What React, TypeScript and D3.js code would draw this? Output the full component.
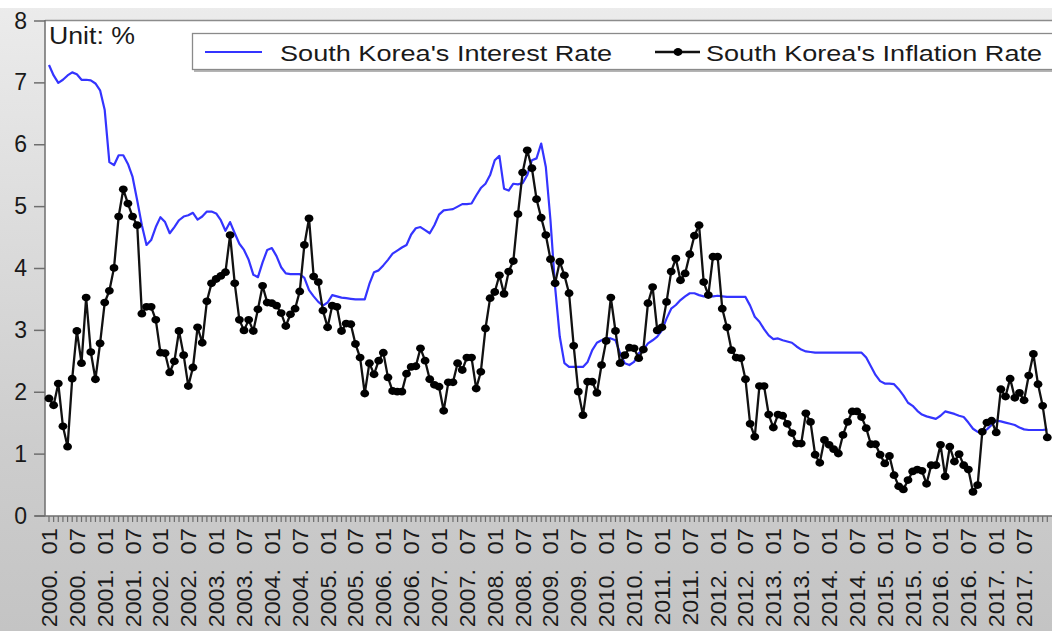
import React from "react";
import * as d3 from "d3";

const years = [2000, 2001, 2002, 2003, 2004, 2005, 2006, 2007, 2008, 2009, 2010, 2011, 2012, 2013, 2014, 2015, 2016, 2017];
const monthCodes = ["01", "02", "03", "04", "05", "06", "07", "08", "09", "10", "11", "12"];
const categories: string[] = years.flatMap((yr) => monthCodes.map((m) => `${yr}.${m}`));

const interestRate = [
  7.29, 7.12, 7.00, 7.05, 7.12, 7.17, 7.14, 7.05, 7.05, 7.04, 6.99, 6.88,
  6.56, 5.72, 5.67, 5.83, 5.83, 5.69, 5.48, 5.10, 4.70, 4.38, 4.46, 4.67,
  4.83, 4.75, 4.57, 4.67, 4.78, 4.84, 4.86, 4.90, 4.79, 4.84, 4.92, 4.92,
  4.89, 4.78, 4.61, 4.75, 4.57, 4.40, 4.30, 4.14, 3.90, 3.86, 4.10, 4.30,
  4.33, 4.20, 4.02, 3.92, 3.91, 3.91, 3.91, 3.85, 3.65, 3.55, 3.46, 3.40,
  3.45, 3.57, 3.55, 3.53, 3.52, 3.51, 3.50, 3.50, 3.50, 3.75, 3.94, 3.97,
  4.05, 4.14, 4.24, 4.29, 4.34, 4.38, 4.55, 4.65, 4.67, 4.62, 4.57, 4.70,
  4.87, 4.94, 4.95, 4.96, 5.00, 5.04, 5.04, 5.05, 5.18, 5.30, 5.37, 5.51,
  5.75, 5.82, 5.29, 5.26, 5.37, 5.36, 5.38, 5.51, 5.75, 5.78, 6.02, 5.64,
  4.78, 3.70, 2.90, 2.47, 2.41, 2.41, 2.41, 2.41, 2.49, 2.68, 2.80, 2.84,
  2.87, 2.87, 2.84, 2.63, 2.47, 2.44, 2.49, 2.63, 2.69, 2.79, 2.84, 2.90,
  3.00, 3.19, 3.35, 3.41, 3.49, 3.55, 3.60, 3.60, 3.57, 3.55, 3.55, 3.55,
  3.56, 3.55, 3.54, 3.54, 3.54, 3.54, 3.54, 3.40, 3.22, 3.14, 3.02, 2.92,
  2.86, 2.87, 2.84, 2.82, 2.80, 2.74, 2.69, 2.66, 2.65, 2.64, 2.64, 2.64,
  2.64, 2.64, 2.64, 2.64, 2.64, 2.64, 2.64, 2.64, 2.56, 2.42, 2.28, 2.18,
  2.14, 2.14, 2.13, 2.05, 1.95, 1.83, 1.78, 1.70, 1.64, 1.61, 1.59, 1.57,
  1.62, 1.69, 1.67, 1.65, 1.62, 1.60, 1.51, 1.41, 1.36, 1.36, 1.40, 1.47,
  1.54, 1.53, 1.51, 1.49, 1.47, 1.43, 1.40, 1.39, 1.39, 1.39, 1.39, 1.40,
];

const inflationRate = [
  1.90, 1.79, 2.14, 1.45, 1.12, 2.22, 2.99, 2.47, 3.53, 2.65, 2.21, 2.79,
  3.45, 3.64, 4.01, 4.84, 5.28, 5.05, 4.84, 4.70, 3.27, 3.38, 3.38, 3.17,
  2.64, 2.63, 2.32, 2.50, 2.99, 2.60, 2.10, 2.40, 3.05, 2.80, 3.47, 3.76,
  3.83, 3.88, 3.94, 4.54, 3.76, 3.17, 3.00, 3.17, 2.99, 3.34, 3.72, 3.45,
  3.44, 3.40, 3.28, 3.07, 3.26, 3.35, 3.63, 4.38, 4.81, 3.87, 3.78, 3.32,
  3.05, 3.40, 3.38, 2.99, 3.11, 3.10, 2.78, 2.56, 1.98, 2.47, 2.29, 2.51,
  2.64, 2.24, 2.02, 2.01, 2.01, 2.30, 2.41, 2.42, 2.71, 2.51, 2.21, 2.12,
  2.09, 1.70, 2.16, 2.16, 2.47, 2.36, 2.56, 2.56, 2.06, 2.33, 3.03, 3.52,
  3.62, 3.89, 3.59, 3.95, 4.12, 4.88, 5.55, 5.91, 5.62, 5.12, 4.82, 4.54,
  4.15, 3.76, 4.11, 3.89, 3.60, 2.75, 2.01, 1.63, 2.17, 2.17, 1.99, 2.44,
  2.83, 3.53, 2.99, 2.47, 2.60, 2.72, 2.71, 2.55, 2.69, 3.44, 3.70, 3.00,
  3.05, 3.46, 3.95, 4.16, 3.81, 3.92, 4.23, 4.53, 4.70, 3.78, 3.57, 4.19,
  4.19, 3.35, 3.05, 2.68, 2.56, 2.55, 2.21, 1.49, 1.28, 2.10, 2.10, 1.64,
  1.43, 1.64, 1.62, 1.49, 1.34, 1.17, 1.17, 1.66, 1.52, 0.99, 0.86, 1.23,
  1.15, 1.08, 1.01, 1.31, 1.52, 1.69, 1.69, 1.60, 1.42, 1.16, 1.16, 0.99,
  0.85, 0.97, 0.66, 0.48, 0.43, 0.58, 0.72, 0.75, 0.73, 0.52, 0.82, 0.82,
  1.15, 0.64, 1.12, 0.88, 1.00, 0.82, 0.75, 0.39, 0.50, 1.36, 1.51, 1.54,
  1.35, 2.05, 1.93, 2.22, 1.91, 1.99, 1.87, 2.27, 2.62, 2.13, 1.78, 1.27,
];

const yTicks = [0, 1, 2, 3, 4, 5, 6, 7, 8];
const seriesNames = ["South Korea's Interest Rate", "South Korea's Inflation Rate"];
const unitLabel = "Unit: %";

const W = 1052;
const H = 631;
const FONT = "'Liberation Sans', Arial, Helvetica, sans-serif";

export default function App() {
  const plotLeft = 45;
  const plotTop = 21;
  const plotBottom = 516;
  const x = d3.scaleLinear().domain([0, categories.length - 1]).range([49, 1047.3]);
  const y = d3.scaleLinear().domain([0, 8]).range([plotBottom, plotTop]);

  const line = d3
    .line<number>()
    .x((_, i) => x(i))
    .y((d) => y(d));

  const labelIdx = categories.map((_, i) => i).filter((i) => i % 6 === 0);

  return (
    <div style={{ position: "fixed", left: 0, top: 0 }}>
      <svg width={W} height={H} style={{ display: "block" }} fontFamily={FONT}>
        <defs>
          <linearGradient id="bg" x1="0" y1="0" x2="0" y2="1">
            <stop offset="0" stopColor="#ececec" />
            <stop offset="0.7" stopColor="#cdcdcd" />
            <stop offset="1" stopColor="#c4c4c4" />
          </linearGradient>
        </defs>
        <rect x={0} y={0} width={W} height={H} fill="url(#bg)" />
        <rect x={0} y={0} width={W} height={8} fill="#ffffff" />
        {/* plot area */}
        <rect x={plotLeft} y={plotTop} width={W - plotLeft} height={plotBottom - plotTop} fill="#ffffff" />
        <line x1={plotLeft} x2={W} y1={plotTop - 0.5} y2={plotTop - 0.5} stroke="#8c8c8c" strokeWidth={1.5} />
        <line x1={plotLeft} x2={plotLeft} y1={plotTop - 1} y2={plotBottom} stroke="#6e6e6e" strokeWidth={1.5} />
        <line x1={plotLeft - 10} x2={W} y1={plotBottom} y2={plotBottom} stroke="#6e6e6e" strokeWidth={1.5} />

        {/* y ticks */}
        {yTicks.map((t) => (
          <g key={"y" + t}>
            <line x1={plotLeft - 11} x2={plotLeft} y1={y(t)} y2={y(t)} stroke="#6e6e6e" strokeWidth={1.5} />
            <text x={27} y={y(t) + 7.5} textAnchor="end" fontSize={23} fill="#1a1a1a">
              {t}
            </text>
          </g>
        ))}

        {/* x ticks */}
        {categories.map((c, i) => (
          <line key={"xt" + c} x1={x(i)} x2={x(i)} y1={plotBottom} y2={plotBottom + 6} stroke="#6e6e6e" strokeWidth={1.2} />
        ))}
        {labelIdx.map((i) => {
          const [yr, mo] = categories[i].split(".");
          return (
            <g key={"xl" + i}>
              <g transform={`translate(${x(i)},${528}) scale(1,1.08) rotate(-90)`}>
                <text x={0} y={0} dy="0.36em" textAnchor="end" fontSize={22} fill="#1a1a1a">
                  {mo}
                </text>
              </g>
              <g transform={`translate(${x(i)},${569}) scale(1,1.06) rotate(-90)`}>
                <text x={0} y={0} dy="0.36em" textAnchor="end" fontSize={22} fill="#1a1a1a">
                  {yr + "."}
                </text>
              </g>
            </g>
          );
        })}

        {/* series */}
        <path d={line(interestRate) || ""} fill="none" stroke="#3434ff" strokeWidth={2.2} strokeLinejoin="round" />
        <path d={line(inflationRate) || ""} fill="none" stroke="#111111" strokeWidth={2.3} strokeLinejoin="round" />
        {inflationRate.map((v, i) => (
          <ellipse key={"p" + i} cx={x(i)} cy={y(v)} rx={4.4} ry={3.9} fill="#000000" />
        ))}

        {/* unit label */}
        <text x={49} y={44} fontSize={23} textLength={86} lengthAdjust="spacingAndGlyphs" fill="#1a1a1a">
          {unitLabel}
        </text>

        {/* legend */}
        <rect x={194} y={35} width={W} height={37} fill="#b4b4b4" />
        <rect x={192.5} y={33.5} width={W} height={36} fill="#ffffff" stroke="#8a8a8a" strokeWidth={1.3} />
        <line x1={205} x2={262} y1={52} y2={52} stroke="#3434ff" strokeWidth={2.2} />
        <text x={280} y={61} fontSize={22.5} textLength={332} lengthAdjust="spacingAndGlyphs" fill="#1a1a1a">
          {seriesNames[0]}
        </text>
        <line x1={655} x2={700} y1={52} y2={52} stroke="#111111" strokeWidth={2.3} />
        <ellipse cx={678} cy={52} rx={4.4} ry={3.9} fill="#000000" />
        <text x={706} y={61} fontSize={22.5} textLength={336} lengthAdjust="spacingAndGlyphs" fill="#1a1a1a">
          {seriesNames[1]}
        </text>
      </svg>
    </div>
  );
}
